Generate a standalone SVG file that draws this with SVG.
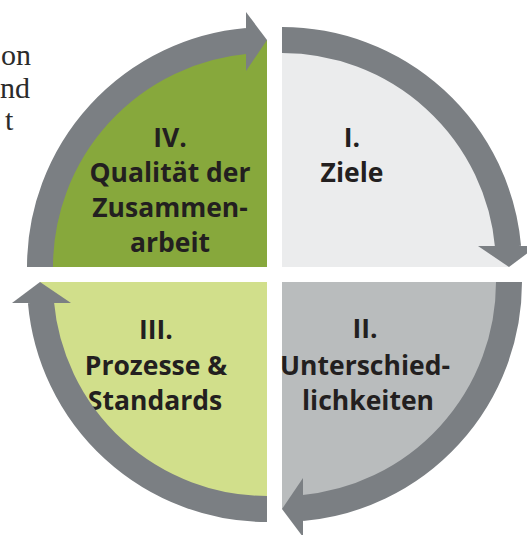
<svg xmlns="http://www.w3.org/2000/svg" width="527" height="535" viewBox="0 0 527 535">
  <style>
    .lbl { font-family: "Open Sans", "Liberation Sans", sans-serif; font-weight: 700; font-size: 26.5px; fill: #231f20; text-anchor: middle; }
    .side { font-family: "Liberation Serif", "DejaVu Serif", serif; font-size: 30px; fill: #2b2b2b; }
    .ring { fill: none; stroke: #7b7f83; stroke-width: 26; stroke-linecap: butt; }
    .head { fill: #7b7f83; }
  </style>
  <defs>
    <g id="arrow">
      <path class="ring" d="M40,267 A227,227 0 0 1 247,40.9"/>
      <polygon class="head" points="246,12 267,40 246,71"/>
    </g>
  </defs>
  <rect width="527" height="535" fill="#ffffff"/>

  <g id="side-text">
    <text class="side" x="1" y="65">on</text>
    <text class="side" x="0" y="98">nd</text>
    <text class="side" x="5" y="130">t</text>
  </g>

  <g id="q1">
    <path d="M282,267 L282,40 A227,227 0 0 1 509,267 Z" fill="#ebeced"/>
    <text class="lbl" x="352" y="147">I.</text>
    <text class="lbl" x="352" y="182">Ziele</text>
  </g>
  <g id="q2">
    <path d="M282,282 L509,282 A227,227 0 0 1 282,509 Z" fill="#b9bcbd"/>
    <text class="lbl" x="365" y="338">II.</text>
    <text class="lbl" x="365" y="375">Unterschied-</text>
    <text class="lbl" x="368" y="410">lichkeiten</text>
  </g>
  <g id="q3">
    <path d="M267,282 L267,509 A227,227 0 0 1 40,282 Z" fill="#d1df8b"/>
    <text class="lbl" x="156" y="339">III.</text>
    <text class="lbl" x="156" y="375">Prozesse &amp;</text>
    <text class="lbl" x="155" y="410">Standards</text>
  </g>
  <g id="q4">
    <path d="M267,267 L40,267 A227,227 0 0 1 267,40 Z" fill="#87a83c"/>
    <text class="lbl" x="170" y="147">IV.</text>
    <text class="lbl" x="170" y="182">Qualität der</text>
    <text class="lbl" x="170" y="217">Zusammen-</text>
    <text class="lbl" x="170" y="252">arbeit</text>
  </g>

  <g id="connectors">
    <use href="#arrow"/>
    <use href="#arrow" transform="rotate(90 274.5 274.5)"/>
    <use href="#arrow" transform="rotate(180 274.5 274.5)"/>
    <use href="#arrow" transform="rotate(270 274.5 274.5)"/>
  </g>
</svg>
